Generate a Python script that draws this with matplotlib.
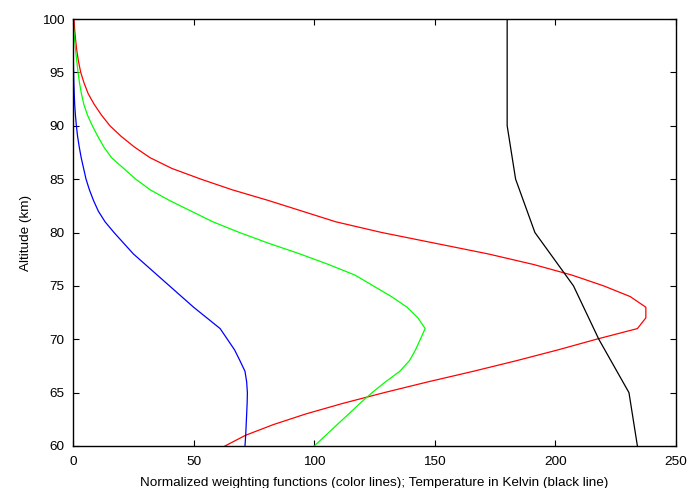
import matplotlib
matplotlib.use("Agg")
import matplotlib.pyplot as plt

# altitude grid (km) for weighting functions
alt = list(range(60, 101))

# normalized weighting functions, listed from 60 km up to 100 km
red = [63, 71.5, 83, 96.5, 112, 129, 147, 166, 184, 201, 217, 234, 237.5,
       237.5, 231, 220, 207, 191, 172, 150, 128, 109, 95, 81, 66, 53, 41,
       32, 25.5, 20, 15.3, 11.8, 8.8, 6.3, 4.6, 3.2, 2.3, 1.6, 1.1, 0.7, 0.4]
green = [100, 104.8, 109.5, 114.3, 119, 124, 129.5, 135.5, 139.5, 142, 144,
         146, 143, 138.5, 132, 124.5, 117, 106, 94, 81, 69, 58, 49, 40, 32,
         26, 21, 16, 12.8, 10.3, 8, 6, 4.5, 3.5, 2.7, 2.1, 1.6, 1.1, 0.7,
         0.3, 0.1]
blue = [71.3, 71.6, 71.8, 72, 72.2, 72.3, 72, 71.3, 69.2, 67, 64, 61, 55.5,
        50, 45, 40, 35, 30, 25, 21, 17, 13.3, 10.5, 8.5, 6.8, 5.4, 4.4, 3.4,
        2.6, 1.9, 1.4, 1.0, 0.7, 0.5, 0.35, 0.25, 0.15, 0.1, 0.05, 0, 0]

# temperature profile (K)
temp_alt = [60, 65, 70, 75, 80, 85, 90, 100]
temp = [234, 230.5, 218, 207.5, 191.5, 183.5, 180, 180]

plt.rcParams["font.family"] = ["Liberation Sans", "DejaVu Sans"]
plt.rcParams["font.size"] = 9.7

fig = plt.figure(figsize=(6.88, 4.88), dpi=100)
ax = fig.add_axes([73 / 688, 1 - 446 / 488, 603 / 688, 427 / 488])

lw = 0.9
ax.plot(red, alt, color="#ff0000", lw=lw)
ax.plot(green, alt, color="#00ff00", lw=lw)
ax.plot(blue, alt, color="#0000ff", lw=lw)
ax.plot(temp, temp_alt, color="black", lw=lw)

ax.set_xlim(0, 250)
ax.set_ylim(60, 100)
ax.set_xticks(range(0, 251, 50))
ax.set_yticks(range(60, 101, 5))
ax.tick_params(direction="in", top=True, right=True, length=4, width=0.8)
ax.tick_params(axis="x", pad=7)
ax.tick_params(axis="y", pad=6)
for s in ax.spines.values():
    s.set_linewidth(1.0)

ax.set_xlabel("Normalized weighting functions (color lines); Temperature in Kelvin (black line)",
              labelpad=7)
ax.set_ylabel("Altitude (km)", labelpad=7)

fig.savefig("out.png", dpi=100)
